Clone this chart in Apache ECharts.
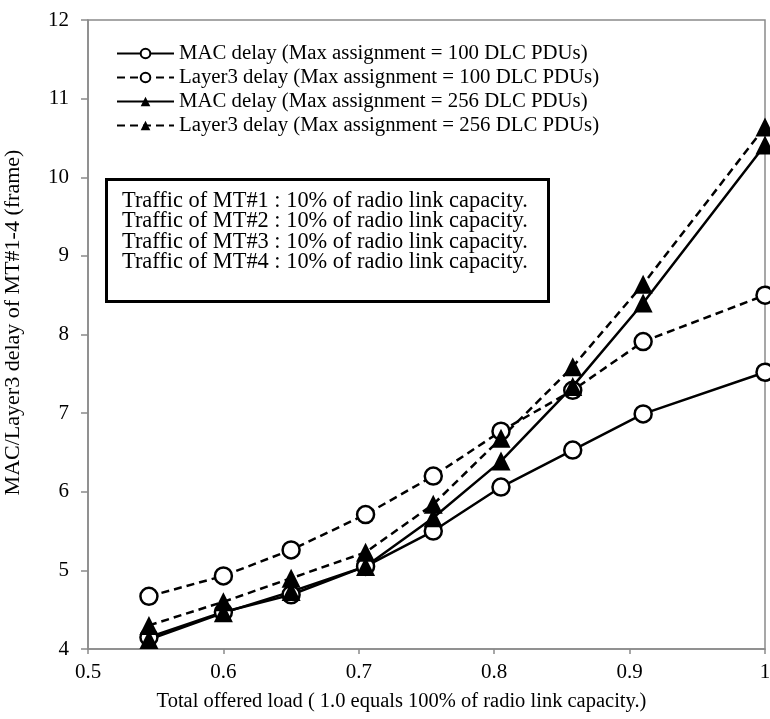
<!DOCTYPE html>
<html>
<head>
<meta charset="utf-8">
<script src="https://cdn.jsdelivr.net/npm/echarts@6/dist/echarts.min.js"></script>
<style>
  html, body { margin: 0; padding: 0; background: #fff; }
  #chart { width: 770px; height: 719px; }
</style>
</head>
<body>
<div id="chart"></div>
<script>
// Total offered load (fraction of radio link capacity)
const offeredLoad = [0.545, 0.6, 0.65, 0.705, 0.755, 0.805, 0.858, 0.91, 1.0];

// Delay in frames
const macDelay100 = [4.15, 4.47, 4.69, 5.05, 5.50, 6.06, 6.53, 6.99, 7.52];
const layer3Delay100 = [4.67, 4.93, 5.26, 5.71, 6.20, 6.77, 7.29, 7.91, 8.50];
const macDelay256 = [4.12, 4.46, 4.73, 5.05, 5.67, 6.39, 7.34, 8.40, 10.41];
const layer3Delay256 = [4.30, 4.60, 4.90, 5.23, 5.84, 6.68, 7.59, 8.64, 10.64];

const seriesNames = [
  'MAC delay (Max assignment = 100 DLC PDUs)',
  'Layer3 delay (Max assignment = 100 DLC PDUs)',
  'MAC delay (Max assignment = 256 DLC PDUs)',
  'Layer3 delay (Max assignment = 256 DLC PDUs)'
];

const trafficNotes = [
  'Traffic of MT#1 : 10% of radio link capacity.',
  'Traffic of MT#2 : 10% of radio link capacity.',
  'Traffic of MT#3 : 10% of radio link capacity.',
  'Traffic of MT#4 : 10% of radio link capacity.'
];

const FONT = '"Liberation Serif", "Times New Roman", serif';
const AXIS_GREY = '#8a8a8a';

function pairs(ys) {
  return offeredLoad.map((x, i) => [x, ys[i]]);
}

function makeSeries(name, ys, dashed, symbol) {
  const isCircle = symbol === 'circle';
  return {
    name: name,
    type: 'line',
    data: pairs(ys),
    symbol: symbol,
    symbolSize: isCircle ? 17 : 19,
    lineStyle: {
      color: '#000',
      width: 2.5,
      type: dashed ? [8, 5] : 'solid'
    },
    itemStyle: {
      color: isCircle ? '#fff' : '#000',
      borderColor: '#000',
      borderWidth: isCircle ? 2.5 : 0
    },
    emphasis: { disabled: true },
    animation: false
  };
}

const chart = echarts.init(document.getElementById('chart'), null, { renderer: 'canvas' });

chart.setOption({
  backgroundColor: '#fff',
  animation: false,
  grid: {
    left: 88, right: 5, top: 20, bottom: 70,
    outerBoundsMode: 'none',
    containLabel: false,
    show: true,
    borderColor: AXIS_GREY,
    borderWidth: 1.5,
    backgroundColor: 'transparent'
  },
  legend: {
    orient: 'vertical',
    left: 116,
    top: 43,
    padding: 0,
    itemWidth: 57,
    itemHeight: 12,
    itemGap: 3,
    data: seriesNames,
    textStyle: { fontFamily: FONT, fontSize: 20.8, color: '#000', lineHeight: 20 },
    backgroundColor: 'transparent'
  },
  xAxis: {
    type: 'value',
    min: 0.5,
    max: 1,
    interval: 0.1,
    name: 'Total offered load ( 1.0 equals 100% of radio link capacity.)',
    nameLocation: 'middle',
    nameGap: 42,
    nameTextStyle: { fontFamily: FONT, fontSize: 20.5, color: '#000', padding: [0, 50, 0, 0] },
    axisLine: { show: true, lineStyle: { color: AXIS_GREY, width: 1.5 } },
    axisTick: { show: true, length: 5, lineStyle: { color: AXIS_GREY, width: 1.5 } },
    axisLabel: {
      fontFamily: FONT, fontSize: 21, color: '#000', margin: 13,
      formatter: v => String(Math.round(v * 10) / 10)
    },
    splitLine: { show: false }
  },
  yAxis: {
    type: 'value',
    min: 4,
    max: 12,
    interval: 1,
    name: 'MAC/Layer3 delay of MT#1-4 (frame)',
    nameLocation: 'middle',
    nameGap: 64,
    nameTextStyle: { fontFamily: FONT, fontSize: 22, color: '#000', padding: [0, 0, 0, 24] },
    axisLine: { show: true, lineStyle: { color: AXIS_GREY, width: 1.5 } },
    axisTick: { show: true, length: 7, lineStyle: { color: AXIS_GREY, width: 1.5 } },
    axisLabel: { fontFamily: FONT, fontSize: 21, color: '#000', margin: 19 },
    splitLine: { show: false }
  },
  graphic: [
    {
      type: 'rect',
      left: 105,
      top: 178,
      shape: { width: 442, height: 122 },
      style: { fill: '#fff', stroke: '#000', lineWidth: 3 },
      z: 100
    },
    {
      type: 'text',
      left: 122,
      top: 190,
      style: {
        text: trafficNotes.join('\n'),
        font: '22.4px ' + FONT,
        fill: '#000',
        lineHeight: 20.5
      },
      z: 101
    }
  ],
  series: [
    makeSeries(seriesNames[0], macDelay100, false, 'circle'),
    makeSeries(seriesNames[1], layer3Delay100, true, 'circle'),
    makeSeries(seriesNames[2], macDelay256, false, 'triangle'),
    makeSeries(seriesNames[3], layer3Delay256, true, 'triangle')
  ]
});
</script>
</body>
</html>
